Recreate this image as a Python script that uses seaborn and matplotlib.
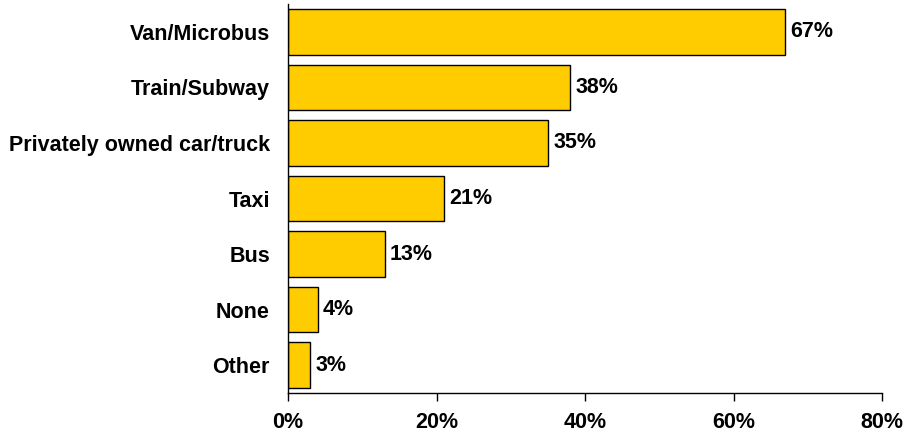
import matplotlib
matplotlib.use("Agg")
import matplotlib.pyplot as plt
import seaborn as sns
import pandas as pd
from matplotlib.ticker import FuncFormatter

categories = ["Van/Microbus", "Train/Subway", "Privately owned car/truck",
              "Taxi", "Bus", "None", "Other"]
shares = [67, 38, 35, 21, 13, 4, 3]
x_ticks = [0, 20, 40, 60, 80]

df = pd.DataFrame({"mode": categories, "share": shares})

sns.set_style("white")
plt.rcParams["font.family"] = ["Liberation Sans", "DejaVu Sans"]
plt.rcParams["font.weight"] = "bold"
plt.rcParams["text.color"] = "black"
plt.rcParams["xtick.color"] = "black"
plt.rcParams["ytick.color"] = "black"

fig = plt.figure(figsize=(9.08, 4.38), dpi=100)
ax = fig.add_axes([288 / 908, 45 / 438, 594 / 908, 389 / 438])

sns.barplot(data=df, x="share", y="mode", orient="h", color="#FFCC00",
            saturation=1, edgecolor="black", linewidth=1.0, width=0.82, ax=ax)

for i, v in enumerate(shares):
    ax.text(v + 0.7, i, f"{v}%", va="center", ha="left",
            fontsize=15.5, fontweight="bold", color="black")

ax.set_xlim(0, 80)
ax.set_ylim(len(categories) - 0.5, -0.5)
ax.set_xticks(x_ticks)
ax.xaxis.set_major_formatter(FuncFormatter(lambda v, _: f"{int(v)}%"))
ax.set_xlabel("")
ax.set_ylabel("")

for side in ["top", "right"]:
    ax.spines[side].set_visible(False)
for side in ["left", "bottom"]:
    ax.spines[side].set_color("black")
    ax.spines[side].set_linewidth(1.0)

ax.tick_params(axis="x", bottom=True, length=6, width=1, color="black",
               labelcolor="black", pad=8, labelsize=15.5)
ax.tick_params(axis="y", left=False, length=0, pad=13, labelsize=15.5,
               labelcolor="black")
for lab in ax.get_xticklabels() + ax.get_yticklabels():
    lab.set_fontweight("bold")

fig.savefig("out.png", dpi=100)
